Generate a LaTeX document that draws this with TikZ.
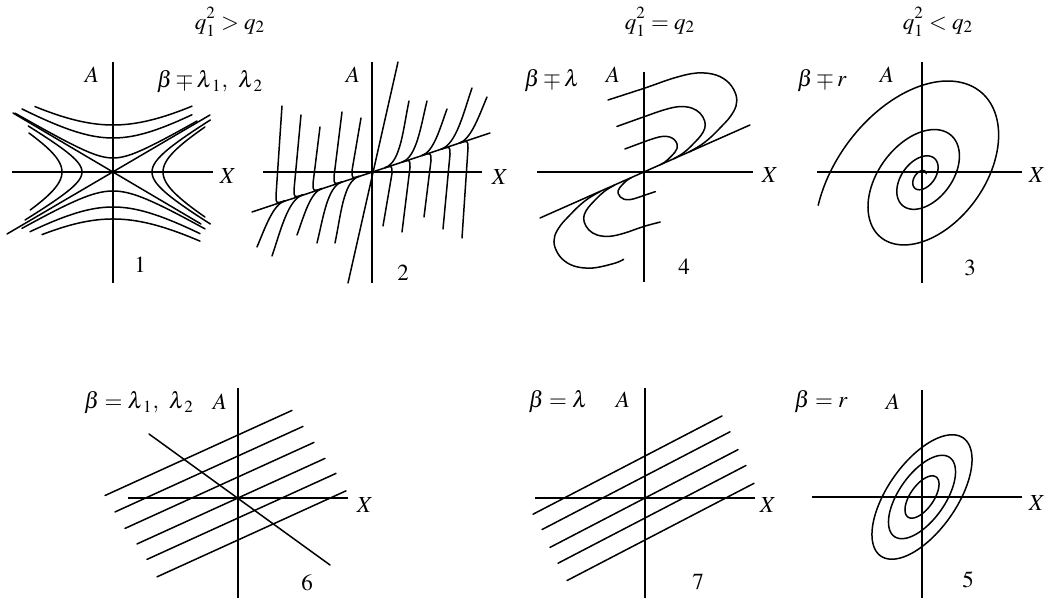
\documentclass[tikz,border=0pt]{standalone}
\usepackage{mathptmx}
\usetikzlibrary{calc}
\begin{document}
\tikzset{
  lbl/.style={font=\fontsize{11.5}{13}\selectfont, inner sep=0pt},
  axis/.style={line width=0.65pt},
  traj/.style={line width=0.75pt, line join=round, line cap=round},
}
\newcommand{\qsq}{q_{\raisebox{-1pt}{$\scriptstyle 1$}}^{\raisebox{1.2pt}{$\scriptstyle 2$}}}
\newcommand{\lamone}{\lambda_{\mkern3mu 1}}
\newcommand{\lamtwo}{\lambda_{\mkern3mu 2}}
\begin{tikzpicture}[x=0.5pt,y=0.5pt]
\useasboundingbox (0,0) rectangle (1055,598);

% headers
\node[lbl] (h1) at (230,576) {$\qsq>q_2$};
\node[lbl] (h2) at (660,576) {$\qsq=q_2$};
\node[lbl] (h3) at (938,576) {$\qsq<q_2$};

% ---------------- panel 1 : saddle
\begin{scope}[shift={(113,426)}]
  \draw[axis] (-101,0) -- (100,0);
  \draw[axis] (0,110) -- (0,-111);
  \foreach \bb/\lo/\hi in {47/-78/79, 34/-91/79, 14/-98/84}
    \draw[traj] plot[domain=\lo:\hi, samples=60] (\x,{sqrt(0.34*\x*\x+\bb*\bb)});
  \foreach \bb/\lo/\hi in {19/-91/92, 35/-83/87, 47/-71/87}
    \draw[traj] plot[domain=\lo:\hi, samples=60] (\x,{-sqrt(0.34*\x*\x+\bb*\bb)});
  \foreach \aa/\lo/\hi in {51/-38/39, 31/-48/46}
    \draw[traj] plot[domain=\lo:\hi, samples=60, variable=\t] ({-sqrt(\t*\t/0.34+\aa*\aa)},\t);
  \foreach \aa/\lo/\hi in {39/-52/52, 50/-45/45}
    \draw[traj] plot[domain=\lo:\hi, samples=60, variable=\t] ({sqrt(\t*\t/0.34+\aa*\aa)},\t);
  \draw[traj] (-106,-62) -- (97,57);
  \draw[traj] (-100,59) -- (88,-52);
\end{scope}
\node[lbl] (a1) at (92,523) {$A$};
\node[lbl] (x1) at (228,422) {$X$};
\node[lbl] (b1) at (210,516) {$\beta\mp\lamone,\ \lamtwo$};
\node[lbl] (n1) at (140,333) {$1$};

% ---------------- panel 2 : node
\begin{scope}[shift={(372,426)}]
  \draw[axis] (-109,0) -- (110,0);
  \draw[axis] (0,110) -- (0,-111);
  \draw[traj] (-120,-40) -- (118,39);
  \draw[traj] (-24,-111) -- (26,110);
  \foreach \rot in {0,180}{
  \begin{scope}[rotate=\rot]
  \foreach \tx/\ty/\bx/\mx in {-90/66/-96/-87, -71/57/-78/-69, -52/45/-59/-50, -30/60/-38/-30, -11/54/-20/-13}
    \draw[traj] (\tx,\ty) -- (\bx,{0.33*\bx+8}) .. controls (\bx,{0.33*\bx}) .. (\mx,{0.33*\mx});
  \foreach \qx/\qy/\mx/\oa in {-115/-75/-87/67, -100/-84/-69/71, -75/-63/-50/70, -55/-71/-30/76, -37/-71/-13/78}
    \draw[traj] (\qx,\qy) to[out=\oa,in=198,in looseness=0.6] (\mx,{0.33*\mx});
  \end{scope}}
\end{scope}
\node[lbl] (a2) at (353,523) {$A$};
\node[lbl] (x2) at (500,421) {$X$};
\node[lbl] (n2) at (403,325) {$2$};

% ---------------- panel 4 : degenerate node
\begin{scope}[shift={(644,426)}]
  \draw[axis] (-107,0) -- (109,0);
  \draw[axis] (0,100) -- (0,-110);
  \draw[traj] (-104,-46) -- (106,47);
  \draw[traj] plot[smooth, tension=0.6] coordinates {(-36,72) (1,84) (30,94) (53,99) (72,97) (85,89) (92,77) (92,66) (86,55) (77,45) (67,35) (57,27) (45,20)};
  \begin{scope}[scale=0.66]
  \draw[traj] plot[smooth, tension=0.6] coordinates {(-41,69) (1,84) (30,94) (53,99) (72,97) (85,89) (92,77) (92,66) (86,55) (77,45) (67,35) (57,27) (45,20)};
  \end{scope}
  \begin{scope}[scale=0.36]
  \draw[traj] plot[smooth, tension=0.6] coordinates {(-53,64) (1,84) (30,94) (53,99) (72,97) (85,89) (92,77) (92,66) (86,55) (77,45) (67,35) (57,27) (45,20)};
  \end{scope}
  \begin{scope}[rotate=180, scale=0.97]
  \draw[traj] plot[smooth, tension=0.6] coordinates {(21,90) (30,94) (53,99) (72,97) (85,89) (92,77) (92,66) (86,55) (77,45) (67,35) (57,27) (45,20)};
  \end{scope}
  \begin{scope}[rotate=180, scale=0.65]
  \draw[traj] plot[smooth, tension=0.6] coordinates {(-25,77) (1,84) (30,94) (53,99) (72,97) (85,89) (92,77) (92,66) (86,55) (77,45) (67,35) (57,27) (45,20)};
  \end{scope}
  \begin{scope}[rotate=180, scale=0.28]
  \draw[traj] plot[smooth, tension=0.6] coordinates {(-41,70) (1,84) (30,94) (53,99) (72,97) (85,89) (92,77) (92,66) (86,55) (77,45) (67,35) (57,27) (45,20)};
  \end{scope}
\end{scope}
\node[lbl] (b4) at (552,517) {$\beta\mp\lambda$};
\node[lbl] (a4) at (613,523) {$A$};
\node[lbl] (x4) at (770,423) {$X$};
\node[lbl] (n4) at (684,331) {$4$};

% ---------------- panel 3 : focus
\begin{scope}[shift={(922,426)}]
  \draw[axis] (-105,0) -- (100,0);
  \draw[axis] (0,110) -- (0,-111);
  \draw[traj] plot[domain=0:1230, samples=420, variable=\p, smooth]
    ({(131.3*exp(-0.6539*\p/360)-2.5*\p/360)*(cos(131-\p)*0.6157-0.65*sin(131-\p)*0.7880)},
     {(131.3*exp(-0.6539*\p/360)-2.5*\p/360)*(cos(131-\p)*0.7880+0.65*sin(131-\p)*0.6157)-5});
\end{scope}
\node[lbl] (b3) at (822,517) {$\beta\mp r$};
\node[lbl] (a3) at (887,523) {$A$};
\node[lbl] (x3) at (1037,423) {$X$};
\node[lbl] (n3) at (970,330) {$3$};

% ---------------- panel 6
\begin{scope}[shift={(238,100)}]
  \draw[axis] (-110,0) -- (110,0);
  \draw[axis] (0,110) -- (0,-100);
  \draw[traj] (-89,64) -- (92,-67);
  \foreach \cc/\lo/\hi in {63/-133/54, 42/-123/65, 21/-113/76, 0/-101/87, -20/-91/98, -42/-81/108}
    \draw[traj] (\lo,{\cc+0.455*\lo}) -- (\hi,{\cc+0.455*\hi});
\end{scope}
\node[lbl] (b6) at (139,195) {$\beta=\lamone,\ \lamtwo$};
\node[lbl] (a6) at (220,196) {$A$};
\node[lbl] (x6) at (365,93) {$X$};
\node[lbl] (n6) at (307,15) {$6$};

% ---------------- panel 7
\begin{scope}[shift={(645,100)}]
  \draw[axis] (-110,0) -- (110,0);
  \draw[axis] (0,110) -- (0,-100);
  \foreach \cc/\lo/\hi in {42/-112/77, 22/-103/85, 0/-95/93, -20/-87/101, -42/-78/109}
    \draw[traj] (\lo,{\cc+0.52*\lo}) -- (\hi,{\cc+0.52*\hi});
\end{scope}
\node[lbl] (b7) at (558,196) {$\beta=\lambda$};
\node[lbl] (a7) at (623,198) {$A$};
\node[lbl] (x7) at (768,93) {$X$};
\node[lbl] (n7) at (698,16) {$7$};

% ---------------- panel 5 : centre
\begin{scope}[shift={(922,101)}]
  \draw[axis] (-110,0) -- (100,0);
  \draw[axis] (0,107) -- (0,-101);
  \foreach \s in {1,0.67,0.34}
    \draw[traj] plot[domain=0:360, samples=120, smooth]
      ({\s*(72*cos(\x)*0.5736-34.5*sin(\x)*0.8192)},{\s*(72*cos(\x)*0.8192+34.5*sin(\x)*0.5736)}) -- cycle;
\end{scope}
\node[lbl] (b5) at (821,196) {$\beta=r$};
\node[lbl] (a5) at (893,196) {$A$};
\node[lbl] (x5) at (1037,95) {$X$};
\node[lbl] (n5) at (968,18) {$5$};
\end{tikzpicture}
\end{document}
